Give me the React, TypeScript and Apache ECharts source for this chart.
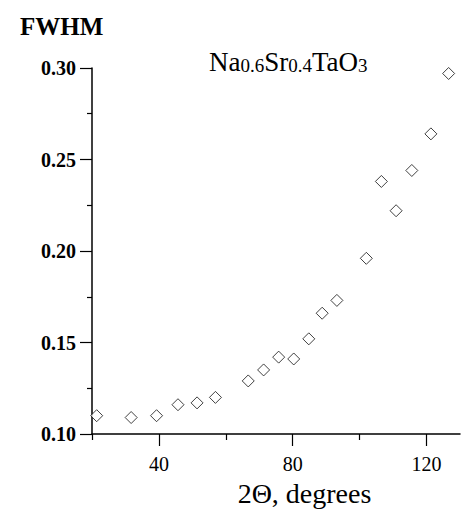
import React, { useEffect, useRef } from "react";
import * as echarts from "echarts";

const twoTheta = [21.4, 31.7, 39.3, 45.7, 51.4, 56.9, 66.7, 71.3, 75.8, 80.3, 84.8, 88.8, 93.2, 102.0, 106.5, 110.9, 115.6, 121.3, 126.6];
const fwhm = [0.110, 0.109, 0.110, 0.116, 0.117, 0.120, 0.129, 0.135, 0.142, 0.141, 0.152, 0.166, 0.173, 0.196, 0.238, 0.222, 0.244, 0.264, 0.297];
const xLabelValues = [40, 80, 120];
const xMinorTickValues = [20, 60, 100];

const FONT = "'Liberation Serif', 'Times New Roman', serif";

export default function App() {
  const ref = useRef<HTMLDivElement>(null);
  useEffect(() => {
    if (!ref.current) return;
    const chart = echarts.init(ref.current, null, { renderer: "svg" });
    const points = twoTheta.map((x, i) => [x, fwhm[i]]);
    chart.setOption({
      animation: false,
      backgroundColor: "#fff",
      grid: { left: 92, right: 2, top: 68, bottom: 76, containLabel: false, outerBoundsMode: "none" },
      xAxis: [
        {
          type: "value",
          min: 20,
          max: 130,
          interval: 20,
          position: "bottom",
          axisLine: { show: true, onZero: false, lineStyle: { color: "#000", width: 1.5 } },
          axisTick: { show: true, customValues: xLabelValues, length: 12, lineStyle: { color: "#000", width: 1.2 } },
          axisLabel: {
            show: true,
            customValues: xLabelValues,
            margin: 20,
            color: "#000",
            fontFamily: FONT,
            fontSize: 20,
          },
          splitLine: { show: false },
          name: "2\u0398, degrees",
          nameLocation: "middle",
          nameGap: 45,
          nameTextStyle: { color: "#000", fontFamily: FONT, fontSize: 28, padding: [0, 0, 0, 57] },
        },
        {
          type: "value",
          min: 20,
          max: 130,
          interval: 20,
          position: "bottom",
          axisLine: { show: false },
          axisTick: { show: true, customValues: xMinorTickValues, length: 6, lineStyle: { color: "#000", width: 1.2 } },
          axisLabel: { show: false },
          splitLine: { show: false },
        },
      ],
      yAxis: {
        type: "value",
        min: 0.1,
        max: 0.3,
        interval: 0.05,
        axisLine: { show: true, onZero: false, lineStyle: { color: "#000", width: 1.5 } },
        axisTick: { show: true, length: 12, lineStyle: { color: "#000", width: 1.2 } },
        minorTick: { show: true, splitNumber: 2, length: 5, lineStyle: { color: "#000", width: 1.2 } },
        axisLabel: {
          margin: 16,
          color: "#000",
          fontFamily: FONT,
          fontSize: 20,
          fontWeight: "bold",
          formatter: (v: number) => v.toFixed(2),
        },
        splitLine: { show: false },
        minorSplitLine: { show: false },
      },
      graphic: [
        {
          type: "text",
          left: 20,
          top: 14,
          style: {
            text: "FWHM",
            fill: "#000",
            font: `bold 25px ${FONT}`,
          },
        },
        {
          type: "text",
          left: 209,
          top: 48,
          style: {
            text: "{n|Na}{s|0.6}{n|Sr}{s|0.4}{n|TaO}{s|3}",
            fill: "#000",
            fontFamily: FONT,
            fontSize: 27,
            rich: {
              n: { fontFamily: FONT, fontSize: 27, lineHeight: 30, verticalAlign: "bottom", fill: "#000" },
              s: { fontFamily: FONT, fontSize: 19, lineHeight: 12, verticalAlign: "bottom", fill: "#000" },
            },
          },
        },
      ],
      series: [
        {
          type: "scatter",
          xAxisIndex: 0,
          data: points,
          symbol: "diamond",
          symbolSize: 12,
          itemStyle: { color: "#fff", borderColor: "#111", borderWidth: 1 },
        },
      ],
    });
    return () => chart.dispose();
  }, []);
  return <div ref={ref} style={{ width: 462, height: 510, position: "absolute", left: 0, top: 0 }} />;
}
